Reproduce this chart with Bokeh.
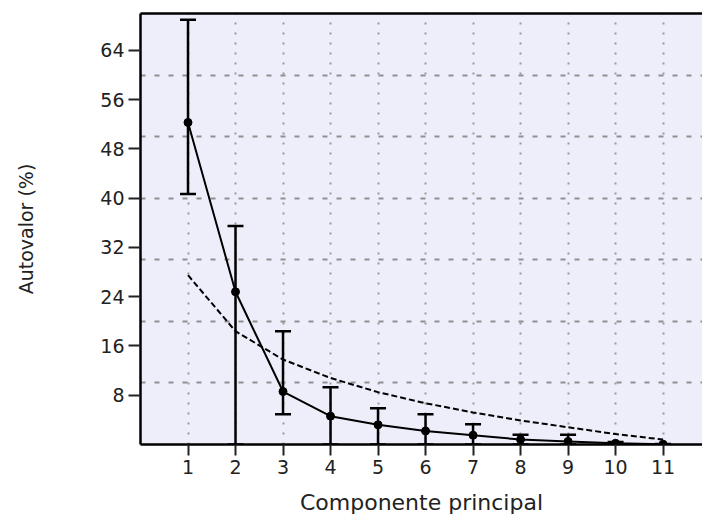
from bokeh.plotting import figure
from bokeh.models import (ColumnDataSource, Whisker, TeeHead, FixedTicker, LinearAxis, Range1d)
from bokeh.embed import file_html
from bokeh.resources import INLINE

components = [1, 2, 3, 4, 5, 6, 7, 8, 9, 10, 11]
eigenvalue = [52.3, 24.8, 8.6, 4.6, 3.2, 2.2, 1.5, 0.8, 0.5, 0.2, 0.05]
err_upper = [69.0, 35.5, 18.4, 9.3, 5.9, 4.9, 3.3, 1.6, 1.6, 0.4, 0.1]
err_lower = [40.7, 0.0, 4.9, 0.0, 0.0, 0.0, 0.0, 0.0, 0.0, 0.0, 0.0]
broken_stick = [27.5, 18.4, 13.8, 10.8, 8.5, 6.7, 5.2, 3.9, 2.8, 1.7, 0.8]
y_ticks = [8, 16, 24, 32, 40, 48, 56, 64]
y_grid = [10, 20, 30, 40, 50, 60]

FONT = "DejaVu Sans"

src = ColumnDataSource(dict(x=components, y=eigenvalue, up=err_upper, lo=err_lower, bs=broken_stick))

p = figure(width=702, height=517, output_backend="svg", toolbar_location=None,
           x_range=Range1d(0, 11.83), y_range=Range1d(0, 70),
           min_border_left=140, min_border_right=0, min_border_top=13, min_border_bottom=73,
           background_fill_color="white", border_fill_color="white")
p.background_fill_color = "#eeeefa"
p.outline_line_color = None

# grids
p.xgrid.ticker = FixedTicker(ticks=components)
p.xgrid.grid_line_color = "#999999"
p.xgrid.grid_line_dash = "2 8"
p.xgrid.grid_line_width = 2
p.ygrid.ticker = FixedTicker(ticks=y_grid)
p.ygrid.grid_line_color = "#8f8f8f"
p.ygrid.grid_line_dash = "5 9"
p.ygrid.grid_line_width = 2

# axes
p.xaxis.ticker = FixedTicker(ticks=components)
p.yaxis.ticker = FixedTicker(ticks=y_ticks)
for ax in (p.xaxis[0], p.yaxis[0]):
    ax.axis_line_width = 2.5
    ax.axis_line_color = "black"
    ax.major_tick_in = 0
    ax.minor_tick_line_color = None
    ax.major_tick_line_width = 2
    ax.major_tick_line_color = "#222222"
    ax.major_label_text_font = FONT
    ax.major_label_text_font_size = "19px"
    ax.major_label_text_color = "#222222"
    ax.axis_label_text_font = FONT
    ax.axis_label_text_font_style = "normal"
    ax.axis_label_text_color = "#222222"
p.xaxis.major_tick_out = 11
p.yaxis.major_tick_out = 12
p.xaxis.major_label_standoff = 4
p.yaxis.major_label_standoff = 4
p.xaxis.axis_label = "Componente principal"
p.xaxis.axis_label_text_font_size = "22px"
p.xaxis.axis_label_standoff = 13
p.yaxis.axis_label = "Autovalor (%)"
p.yaxis.axis_label_text_font_size = "19px"
p.yaxis.axis_label_standoff = 60

top = LinearAxis(ticker=FixedTicker(ticks=[]), axis_line_width=2.5, axis_line_color="black",
                 major_tick_out=0, major_tick_in=0, minor_tick_out=0, minor_tick_in=0)
p.add_layout(top, "above")

# broken-stick dashed line
p.line("x", "bs", source=src, line_color="black", line_width=2, line_dash="6 3")

# error bars
wh = Whisker(source=src, base="x", upper="up", lower="lo", line_color="black", line_width=2.5,
             upper_head=TeeHead(size=16, line_width=2.5, line_color="black"),
             lower_head=TeeHead(size=16, line_width=2.5, line_color="black"))
p.add_layout(wh)

# eigenvalue line and points
p.line("x", "y", source=src, line_color="black", line_width=2)
p.scatter("x", "y", source=src, size=8, fill_color="black", line_color="black")

open("out.html", "w").write(file_html(p, INLINE))
